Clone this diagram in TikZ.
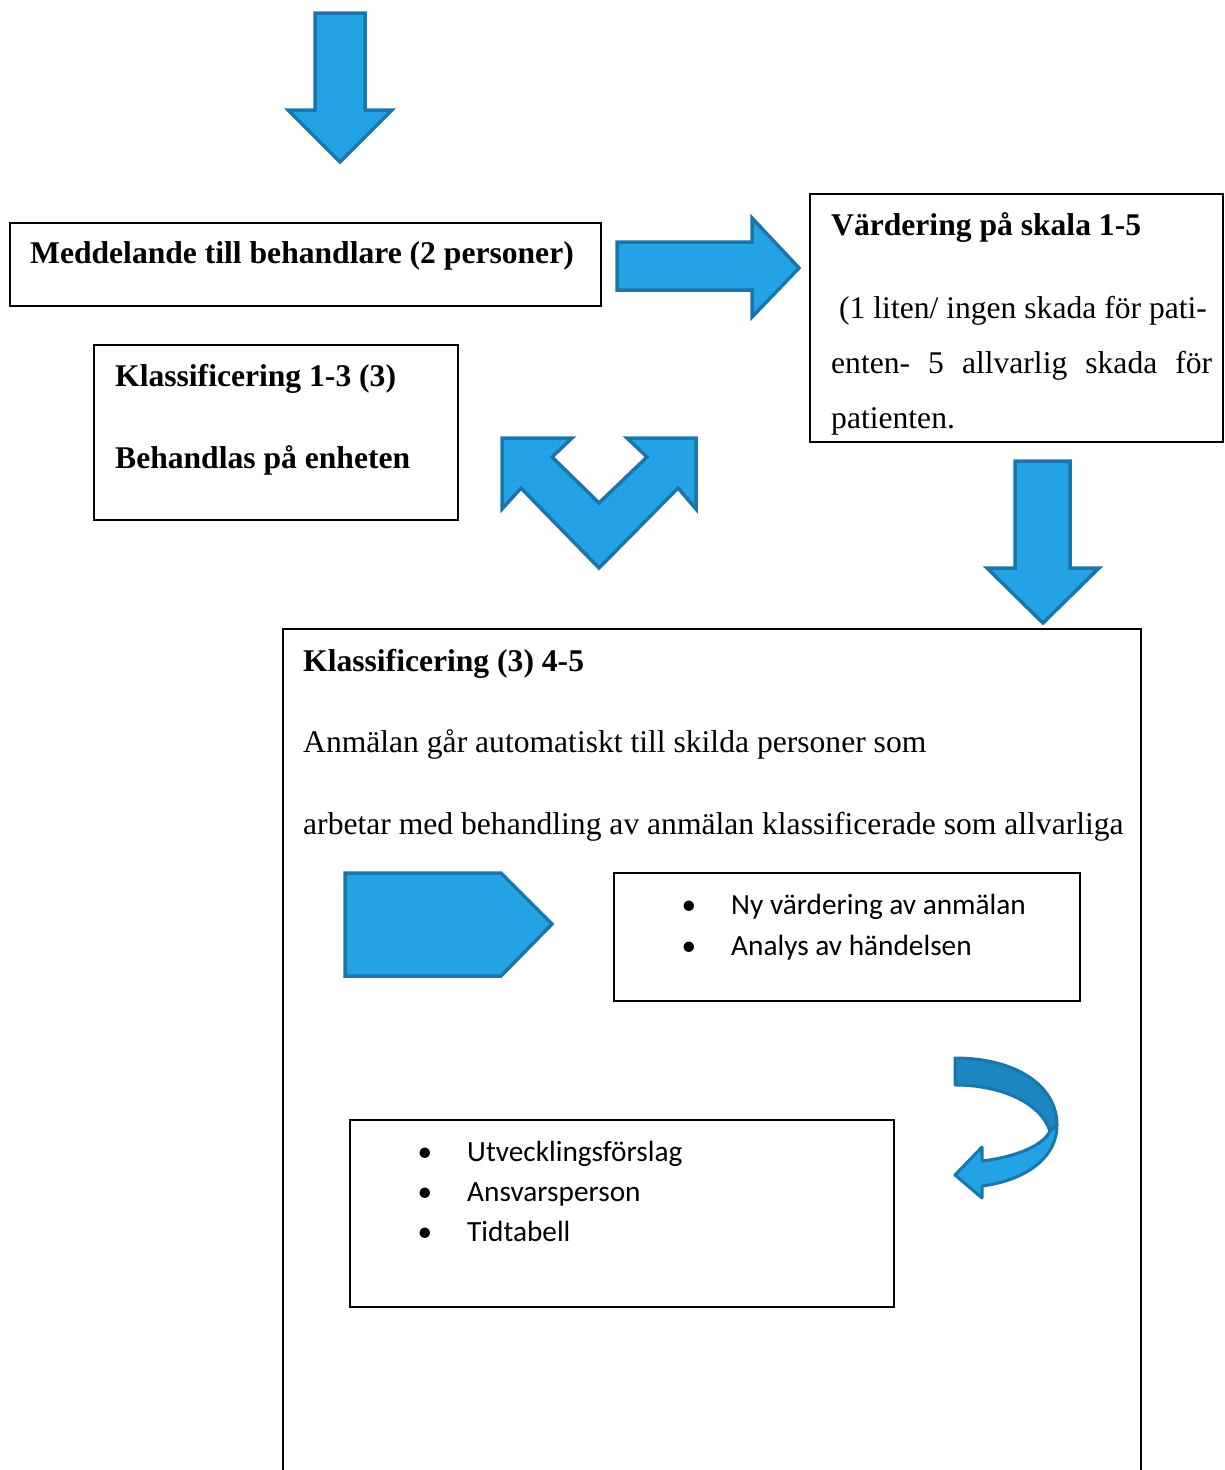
\documentclass[tikz,border=0pt]{standalone}
\usepackage{fontspec}
\setmainfont{Liberation Serif}
\newfontfamily\calibri{Carlito}
\definecolor{afill}{RGB}{35,163,230}
\definecolor{aline}{RGB}{26,118,170}
\definecolor{adark}{RGB}{28,134,192}
\begin{document}
\begin{tikzpicture}[x=1pt,y=-1pt,
  blockarrow/.style={fill=afill,draw=aline,line width=3.5pt,line join=miter},
  boxframe/.style={draw=black,line width=1.1pt},
  serif/.style={inner sep=0pt,anchor=base west,font=\fontsize{31.6}{38}\selectfont},
  serifb/.style={serif,font=\fontsize{31.6}{38}\selectfont\bfseries},
  cal/.style={inner sep=0pt,anchor=base west,font=\calibri\fontsize{29.3}{35}\selectfont},
  bul/.style={inner sep=0pt,anchor=base,font=\calibri\fontsize{29.3}{35}\selectfont}]
\useasboundingbox (0,0) rectangle (1224,1470);
\fill[white] (0,0) rectangle (1224,1470);

% top down arrow
\draw[blockarrow] (315,13) -- (365,13) -- (365,110) -- (392,110) -- (340,162) -- (288,110) -- (315,110) -- cycle;

% Meddelande box
\draw[boxframe] (10,223) rectangle (601,306);
\node[serifb] (medd) at (30,263) {Meddelande till behandlare (2 personer)};

% right arrow
\draw[blockarrow] (617,242) -- (752,242) -- (752,218) -- (799,268) -- (752,317) -- (752,290) -- (617,290) -- cycle;

% Vardering box
\draw[boxframe] (810,194) rectangle (1223,442);
\node[serifb] (vtitle) at (831,235) {Värdering på skala 1-5};
\node[serif] (v1) at (839,318) {(1 liten/ ingen skada för pati-};
\node[serif] (v2) at (831,373) {\hbox to 381pt{enten-\hfil\ 5\hfil\ allvarlig\hfil\ skada\hfil\ för}};
\node[serif] (v3) at (831,428) {patienten.};

% Klassificering 1-3 box
\draw[boxframe] (94,345) rectangle (458,520);
\node[serifb] (k1) at (115,386) {Klassificering 1-3 (3)};
\node[serifb] (k2) at (115,468) {Behandlas på enheten};

% V-shaped double arrow
\draw[blockarrow] (502,438) -- (572,438) -- (552,457) -- (599,503) -- (647,457) -- (627,438) -- (696,438) -- (696,509) -- (678,488) -- (599,568) -- (521,488) -- (502,509) -- cycle;

% right down arrow
\draw[blockarrow] (1015,461) -- (1070,461) -- (1070,568) -- (1099,568) -- (1043,623) -- (987,568) -- (1015,568) -- cycle;

% big box
\draw[boxframe] (283,1490) -- (283,629) -- (1141,629) -- (1141,1490);
\node[serifb] (k3) at (303,671) {Klassificering (3) 4-5};
\node[serif] (b1) at (303,752) {Anmälan går automatiskt till skilda personer som};
\node[serif] (b2) at (303,834) {arbetar med behandling av anmälan klassificerade som allvarliga};

% pentagon arrow
\draw[blockarrow] (345,873) -- (501,873) -- (552,924) -- (501,976) -- (345,976) -- cycle;

% bullet box 1
\draw[boxframe] (614,873) rectangle (1080,1001);
\node[bul] (d1) at (689,914) {•};
\node[cal] (t1) at (731,914) {Ny värdering av anmälan};
\node[bul] (d2) at (689,955) {•};
\node[cal] (t2) at (731,955) {Analys av händelsen};

% curved arrow
\draw[fill=adark,draw=aline,line width=3pt,line join=round]
  (955,1058) .. controls (1015,1058) and (1057,1085) .. (1057,1125)
  -- (1050,1131) .. controls (1040,1102) and (1000,1085) .. (955,1085) -- cycle;
\draw[fill=afill,draw=aline,line width=3pt,line join=round]
  (1057,1125) .. controls (1057,1160) and (1022,1181) .. (982,1186)
  -- (982,1198) -- (955,1175) -- (982,1147) -- (982,1161)
  .. controls (1015,1157) and (1043,1146) .. (1050,1131) -- cycle;

% bullet box 2
\draw[boxframe] (350,1120) rectangle (894,1307);
\node[bul] (d3) at (425,1161) {•};
\node[cal] (t3) at (467,1161) {Utvecklingsförslag};
\node[bul] (d4) at (425,1201) {•};
\node[cal] (t4) at (467,1201) {Ansvarsperson};
\node[bul] (d5) at (425,1241) {•};
\node[cal] (t5) at (467,1241) {Tidtabell};
\end{tikzpicture}
\end{document}
